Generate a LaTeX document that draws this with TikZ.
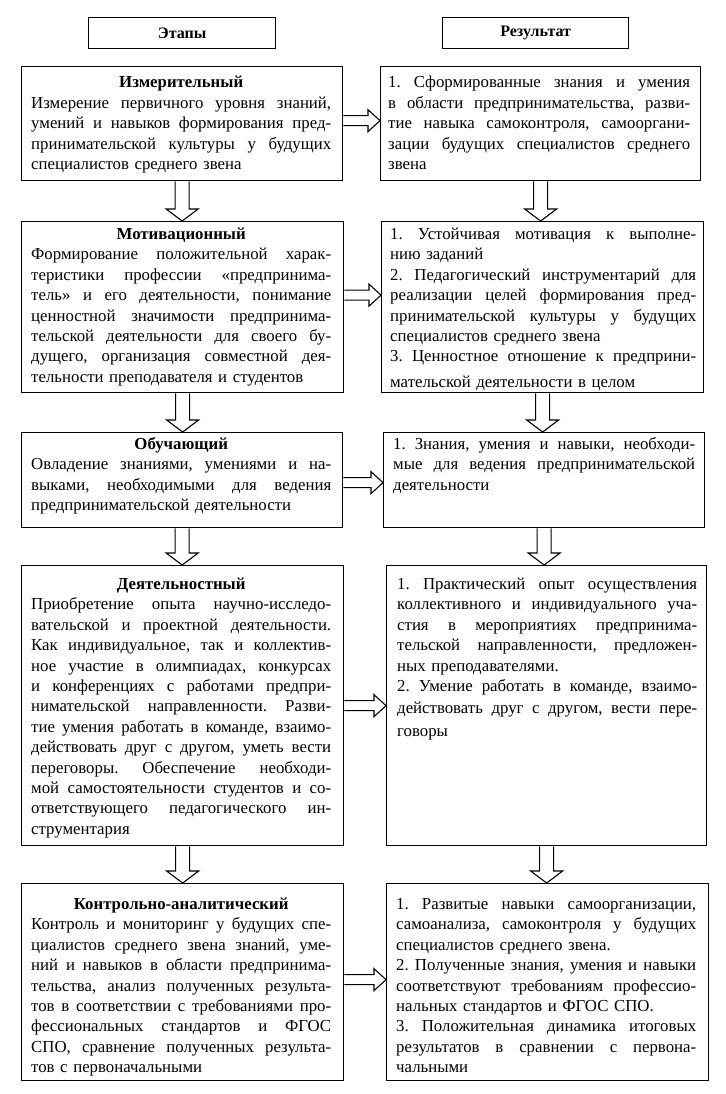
\documentclass[tikz,border=0pt]{standalone}
\usepackage{fontspec}
\setmainfont{Liberation Serif}
\usetikzlibrary{calc}
\newcommand{\jl}[1]{\leavevmode\hbox to\hsize{\spaceskip=\fontdimen2\font plus 1fil minus .4\fontdimen2\font\xspaceskip=\spaceskip #1}}
\newcommand{\ttl}[1]{\leavevmode\hbox to\hsize{\hfil\bfseries #1\hfil}}
\newcommand{\varr}[2]{%
  \draw[arrst] let \p1=(#1.south), \p2=(#2.north) in
    (\x1-7pt,\y1) -- (\x1-7pt,\y2+12pt) -- (\x1-16pt,\y2+12pt) -- (\x1,\y2)
    -- (\x1+16pt,\y2+12pt) -- (\x1+7pt,\y2+12pt) -- (\x1+7pt,\y1);}
\newcommand{\harr}[3]{%
  \draw[arrst] let \p1=($(#1.east)+(0,#3)$), \p2=(#2.west) in
    (\x1,\y1+5pt) -- (\x2-12pt,\y1+5pt) -- (\x2-12pt,\y1+11pt) -- (\x2,\y1)
    -- (\x2-12pt,\y1-11pt) -- (\x2-12pt,\y1-5pt) -- (\x1,\y1-5pt);}
\begin{document}
\begin{tikzpicture}[x=1pt,y=-1pt,
  boxst/.style={draw, line width=1.3pt, inner sep=0pt, anchor=north west},
  hdrtxt/.style={font=\fontsize{16}{19}\selectfont\bfseries},
  txt/.style={anchor=north west, inner sep=0pt, text width=#1, align=left,
    font=\fontsize{16.8}{20.4}\selectfont\frenchspacing},
  arrst/.style={draw, line width=1.1pt, fill=white, line join=miter}]
\useasboundingbox[fill=white] (0,0) rectangle (725,1094);

% headers
\node[boxst, minimum width=187pt, minimum height=31pt] (E) at (88,17) {};
\node[hdrtxt] (Et) at (E.center) {Этапы};
\node[boxst, minimum width=186pt, minimum height=31pt] (R) at (442,17) {};
\node[hdrtxt] (Rt) at (R.center) {Результат};

% row 1
\node[boxst, minimum width=321pt, minimum height=114pt] (L1) at (21,66) {};
\node[boxst, minimum width=320pt, minimum height=114pt] (R1) at (380,66) {};
\node[txt=300pt] (L1t) at ($(L1.north west)+(10,7.5)$) {\strut\ttl{Измерительный}\\
\jl{Измерение первичного уровня знаний,}\\
\jl{умений и навыков формирования пред-}\\
\jl{принимательской культуры у будущих}\\
специалистов среднего звена};
\node[txt=302pt] (R1t) at ($(R1.north west)+(8,7.5)$) {\strut\jl{1. Сформированные знания и умения}\\
\jl{в области предпринимательства, разви-}\\
\jl{тие навыка самоконтроля, самооргани-}\\
\jl{зации будущих специалистов среднего}\\
звена};

% row 2
\node[boxst, minimum width=322pt, minimum height=171pt] (L2) at (21,221) {};
\node[boxst, minimum width=322pt, minimum height=171pt] (R2) at (381,221) {};
\node[txt=300pt] (L2t) at ($(L2.north west)+(10,4)$) {\strut\ttl{Мотивационный}\\
\jl{Формирование положительной харак-}\\
\jl{теристики профессии «предпринима-}\\
\jl{тель» и его деятельности, понимание}\\
\jl{ценностной значимости предпринима-}\\
\jl{тельской деятельности для своего бу-}\\
\jl{дущего, организация совместной дея-}\\
тельности преподавателя и студентов};
\node[txt=306pt] (R2t) at ($(R2.north west)+(9,4)$) {\strut\jl{1. Устойчивая мотивация к выполне-}\\
нию заданий\\
\jl{2. Педагогический инструментарий для}\\
\jl{реализации целей формирования пред-}\\
\jl{принимательской культуры у будущих}\\
специалистов среднего звена\\
\jl{3. Ценностное отношение к предприни-}\\[5pt]
мательской деятельности в целом};

% row 3
\node[boxst, minimum width=321pt, minimum height=95pt] (L3) at (21,432) {};
\node[boxst, minimum width=321pt, minimum height=95pt] (R3) at (383,432) {};
\node[txt=300pt] (L3t) at ($(L3.north west)+(10,3)$) {\strut\ttl{Обучающий}\\
\jl{Овладение знаниями, умениями и на-}\\
\jl{выками, необходимыми для ведения}\\
предпринимательской деятельности};
\node[txt=302pt] (R3t) at ($(R3.north west)+(10,3)$) {\strut\jl{1. Знания, умения и навыки, необходи-}\\
\jl{мые для ведения предпринимательской}\\
деятельности};

% row 4
\node[boxst, minimum width=322pt, minimum height=280pt] (L4) at (21,565) {};
\node[boxst, minimum width=320pt, minimum height=280pt] (R4) at (386,565) {};
\node[txt=300pt] (L4t) at ($(L4.north west)+(10,10)$) {\strut\ttl{Деятельностный}\\
\jl{Приобретение опыта научно-исследо-}\\
\jl{вательской и проектной деятельности.}\\
\jl{Как индивидуальное, так и коллектив-}\\
\jl{ное участие в олимпиадах, конкурсах}\\
\jl{и конференциях с работами предпри-}\\
\jl{нимательской направленности. Разви-}\\
\jl{тие умения работать в команде, взаимо-}\\
\jl{действовать друг с другом, уметь вести}\\
\jl{переговоры. Обеспечение необходи-}\\
\jl{мой самостоятельности студентов и со-}\\
\jl{ответствующего педагогического ин-}\\
струментария};
\node[txt=300pt] (R4t) at ($(R4.north west)+(11,10)$) {\strut\jl{1. Практический опыт осуществления}\\
\jl{коллективного и индивидуального уча-}\\
\jl{стия в мероприятиях предпринима-}\\
\jl{тельской направленности, предложен-}\\
ных преподавателями.\\
\jl{2. Умение работать в команде, взаимо-}\\[2pt]
\jl{действовать друг с другом, вести пере-}\\[2pt]
говоры};

% row 5
\node[boxst, minimum width=322pt, minimum height=197pt] (L5) at (21,883) {};
\node[boxst, minimum width=322pt, minimum height=197pt] (R5) at (386,883) {};
\node[txt=300pt] (L5t) at ($(L5.north west)+(10,12)$) {\strut\ttl{Контрольно-аналитический}\\
\jl{Контроль и мониторинг у будущих спе-}\\
\jl{циалистов среднего звена знаний, уме-}\\
\jl{ний и навыков в области предпринима-}\\
\jl{тельства, анализ полученных результа-}\\
\jl{тов в соответствии с требованиями про-}\\
\jl{фессиональных стандартов и ФГОС}\\
\jl{СПО, сравнение полученных результа-}\\
тов с первоначальными};
\node[txt=300pt] (R5t) at ($(R5.north west)+(10,12)$) {\strut\jl{1. Развитые навыки самоорганизации,}\\
\jl{самоанализа, самоконтроля у будущих}\\
специалистов среднего звена.\\
\jl{2. Полученные знания, умения и навыки}\\
\jl{соответствуют требованиям профессио-}\\
нальных стандартов и ФГОС СПО.\\
\jl{3. Положительная динамика итоговых}\\
\jl{результатов в сравнении с первона-}\\
чальными};

% vertical arrows
\varr{L1}{L2}
\varr{R1}{R2}
\varr{L2}{L3}
\varr{R2}{R3}
\varr{L3}{L4}
\varr{R3}{R4}
\varr{L4}{L5}
\varr{R4}{R5}

% horizontal arrows
\harr{L1}{R1}{-3}
\harr{L2}{R2}{-12}
\harr{L3}{R3}{2.5}
\harr{L4}{R4}{0}
\harr{L5}{R5}{-2.5}
\end{tikzpicture}
\end{document}
